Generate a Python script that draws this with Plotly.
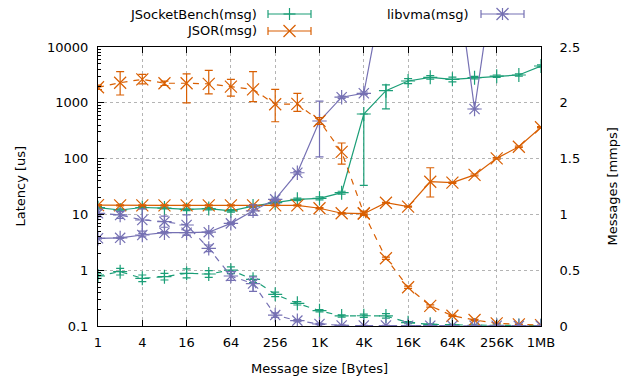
import plotly.graph_objects as go

# ---------------- data ----------------
sizes = [2 ** i for i in range(21)]
tick_vals = [1, 4, 16, 64, 256, 1024, 4096, 16384, 65536, 262144, 1048576]
tick_text = ["1", "4", "16", "64", "256", "1K", "4K", "16K", "64K", "256K", "1MB"]

# latency [us] (left axis)
jsb_lat = [13.2, 12.0, 13.3, 13.0, 12.3, 12.7, 11.6, 14.1, 16.2, 18.6, 19.4, 24.5,
           630, 1650, 2460, 2860, 2630, 2820, 3000, 3150, 4570]
jsb_lat_plus = [0.6, 0.6, 0.6, 0.5, 0.6, 0.6, 0.6, 0.8, 0.8, 1.0, 1.2, 1.5,
                0, 440, 250, 200, 250, 150, 150, 150, 200]
jsb_lat_minus = [0.6, 0.6, 0.6, 0.5, 0.6, 0.6, 0.6, 0.8, 0.8, 1.0, 1.2, 1.5,
                 597, 874, 250, 200, 250, 150, 150, 150, 200]

jsor_lat = [14.7, 14.5, 14.5, 14.5, 14.5, 14.5, 14.5, 14.5, 14.5, 14.5, 12.9, 10.5,
            10.3, 16.2, 13.8, 38.5, 37, 51, 101, 163, 364]
jsor_lat_plus = [0.3] * 15 + [30, 1, 2, 3, 5, 10]
jsor_lat_minus = [0.3] * 15 + [18, 1, 2, 3, 5, 10]

vma_lat = [3.73, 3.8, 4.27, 4.7, 4.7, 4.8, 6.9, 11.6, 18.6, 55.8, 472, 1260,
           1480, 180000, 300000, 500000, 700000, 774, 400000, 500000, 500000]
vma_lat_plus = [0.1, 0.1, 0.3, 0.2, 0.5, 0.2, 0.3, 3.2, 1.0, 3.0, 600, 60,
                80, 0, 0, 0, 0, 0, 0, 0, 0]
vma_lat_minus = [0.1, 0.1, 0.3, 0.2, 0.5, 0.2, 0.3, 2.0, 1.0, 3.0, 365, 60,
                 80, 0, 0, 0, 0, 0, 0, 0, 0]

# messages [mmps] (right axis)
jsb_msg = [0.448, 0.487, 0.427, 0.442, 0.472, 0.466, 0.50, 0.418, 0.284, 0.203, 0.137,
           0.09, 0.092, 0.09, 0.03, 0.015, 0.01, 0.006, 0.005, 0.004, 0.003]
jsb_msg_err = [0.02, 0.03, 0.03, 0.03, 0.04, 0.03, 0.03, 0.03, 0.02, 0.015, 0.01,
               0.01, 0.015, 0.02, 0.01, 0.005, 0.005, 0.003, 0.002, 0.002, 0.001]

jsor_msg = [2.139, 2.18, 2.21, 2.175, 2.175, 2.17, 2.145, 2.12, 1.987, 1.99, 1.837,
            1.56, 1.01, 0.607, 0.347, 0.18, 0.092, 0.054, 0.024, 0.015, 0.008]
jsor_msg_plus = [0.02, 0.10, 0.045, 0.02, 0.085, 0.12, 0.065, 0.16, 0.133, 0.095, 0.03,
                 0.08, 0.02, 0.01, 0.01, 0.01, 0.005, 0.005, 0.003, 0.002, 0.001]
jsor_msg_minus = [0.02, 0.11, 0.04, 0.02, 0.175, 0.09, 0.085, 0.11, 0.157, 0.067, 0.03,
                  0.11, 0.02, 0.01, 0.01, 0.01, 0.005, 0.005, 0.003, 0.002, 0.001]

vma_msg = [1.01, 0.995, 0.95, 0.935, 0.905, 0.696, 0.448, 0.38, 0.098, 0.048, 0.018,
           0.005, 0.004, 0.004, 0.003, 0.003, 0.002, 0.002, 0.002, 0.001, 0.001]
vma_msg_err_plus = [0.03, 0.03, 0.10, 0.05, 0.09, 0.03, 0.04, 0.06, 0.02, 0.01, 0.005,
                    0.002, 0.002, 0.002, 0.001, 0.001, 0.001, 0.001, 0.001, 0.001, 0.001]
vma_msg_err_minus = [0.03, 0.03, 0.10, 0.05, 0.09, 0.03, 0.04, 0.07, 0.02, 0.01, 0.005,
                     0.002, 0.002, 0.002, 0.001, 0.001, 0.001, 0.001, 0.001, 0.001, 0.001]

GREEN = "#1b9e77"
ORANGE = "#d95f02"
PURPLE = "#7570b3"
FONT = "DejaVu Sans"
DASH = "6px,6px"

fig = go.Figure()


def add(y, plus, minus, color, symbol, size, dash, axis):
    fig.add_trace(go.Scatter(
        x=sizes, y=y, yaxis=axis, mode="lines+markers",
        line=dict(color=color, width=1.2, dash=dash),
        marker=dict(symbol=symbol, size=size, color=color,
                    line=dict(color=color, width=1.2)),
        error_y=dict(type="data", symmetric=False, array=plus, arrayminus=minus,
                     color=color, thickness=1.2, width=4),
        showlegend=False, cliponaxis=True,
    ))


add(jsb_lat, jsb_lat_plus, jsb_lat_minus, GREEN, "cross-thin", 10, "solid", "y")
add(jsb_msg, jsb_msg_err, jsb_msg_err, GREEN, "cross-thin", 10, DASH, "y2")
add(jsor_lat, jsor_lat_plus, jsor_lat_minus, ORANGE, "x-thin", 12, "solid", "y")
add(jsor_msg, jsor_msg_plus, jsor_msg_minus, ORANGE, "x-thin", 12, DASH, "y2")
add(vma_lat, vma_lat_plus, vma_lat_minus, PURPLE, "asterisk", 12, "solid", "y")
add(vma_msg, vma_msg_err_plus, vma_msg_err_minus, PURPLE, "asterisk", 12, DASH, "y2")

# ---------------- layout ----------------
L, R, T, B = 98, 541, 47, 326
W, H = 629, 381


def pxx(x):
    return (x - L) / (R - L)


def pxy(y):
    return (B - y) / (B - T)


shapes = []
annotations = []


def seg(x0, y0, x1, y1, color, w=1.2):
    shapes.append(dict(type="line", xref="paper", yref="paper",
                       x0=pxx(x0), y0=pxy(y0), x1=pxx(x1), y1=pxy(y1),
                       line=dict(color=color, width=w)))


def legend_entry(label, text_right, x0, x1, y, color, kind):
    annotations.append(dict(text=label, xref="paper", yref="paper",
                            x=pxx(text_right), y=pxy(y), xanchor="right",
                            yanchor="middle", showarrow=False,
                            font=dict(family=FONT, size=13, color="black")))
    seg(x0, y, x1, y, color)
    seg(x0, y - 4, x0, y + 4, color)
    seg(x1, y - 4, x1, y + 4, color)
    cx = (x0 + x1) / 2
    if kind in ("+", "*"):
        seg(cx - 6, y, cx + 6, y, color)
        seg(cx, y - 6, cx, y + 6, color)
    if kind in ("x", "*"):
        seg(cx - 6, y - 6, cx + 6, y + 6, color)
        seg(cx - 6, y + 6, cx + 6, y - 6, color)


legend_entry("JSocketBench(msg)", 259, 268, 311, 14, GREEN, "+")
legend_entry("JSOR(msg)", 259, 268, 311, 31, ORANGE, "x")
legend_entry("libvma(msg)", 471, 481, 524, 14, PURPLE, "*")

annotations.append(dict(text="Latency [us]", xref="paper", yref="paper",
                        x=pxx(20), y=0.5, textangle=-90, showarrow=False,
                        xanchor="center", yanchor="middle",
                        font=dict(family=FONT, size=13, color="black")))
annotations.append(dict(text="Messages [mmps]", xref="paper", yref="paper",
                        x=pxx(612), y=0.5, textangle=-90, showarrow=False,
                        xanchor="center", yanchor="middle",
                        font=dict(family=FONT, size=13, color="black")))
annotations.append(dict(text="Message size [Bytes]", xref="paper", yref="paper",
                        x=0.5, y=pxy(368), showarrow=False,
                        xanchor="center", yanchor="middle",
                        font=dict(family=FONT, size=13, color="black")))

axis_font = dict(family=FONT, size=13, color="black")
fig.update_layout(
    width=W, height=H,
    margin=dict(l=L, r=W - R, t=T, b=H - B),
    paper_bgcolor="white", plot_bgcolor="white",
    font=axis_font,
    showlegend=False,
    xaxis=dict(type="log", range=[0, 20 * 0.30103],
               tickmode="array", tickvals=tick_vals, ticktext=tick_text,
               ticks="inside", ticklen=6, tickcolor="black", ticklabelstandoff=4,
               showline=True, linecolor="black", linewidth=1, mirror="ticks",
               showgrid=True, gridcolor="#b4b4b4", griddash="dot", gridwidth=1,
               zeroline=False, tickfont=axis_font),
    yaxis=dict(type="log", range=[-1, 4], dtick=1, tickformat="~g",
               ticks="inside", ticklen=6, tickcolor="black", ticklabelstandoff=6,
               minor=dict(ticks="inside", ticklen=3, tickcolor="black", showgrid=False),
               showline=True, linecolor="black", linewidth=1, mirror=False,
               showgrid=True, gridcolor="#b4b4b4", griddash="dot", gridwidth=1,
               zeroline=False, tickfont=axis_font),
    yaxis2=dict(overlaying="y", side="right", range=[0, 2.5],
                tickmode="array", tickvals=[0, 0.5, 1, 1.5, 2, 2.5],
                ticktext=["0", "0.5", "1", "1.5", "2", "2.5"],
                ticks="", ticklabelstandoff=15,
                showline=True, linecolor="black", linewidth=1,
                showgrid=False, zeroline=False, tickfont=axis_font),
    shapes=shapes, annotations=annotations,
)

fig.write_html("out.html")
